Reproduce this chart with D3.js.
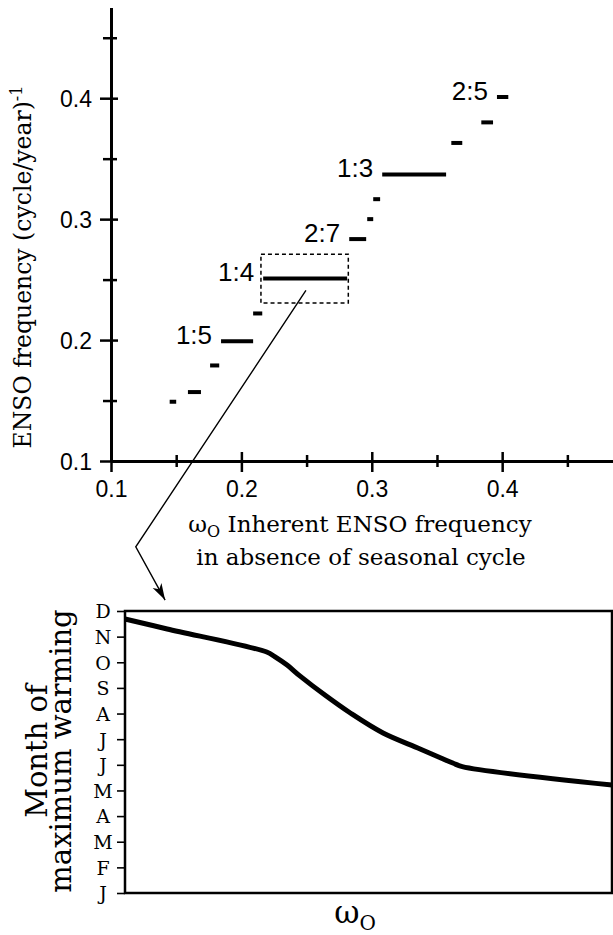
<!DOCTYPE html>
<html>
<head>
<meta charset="utf-8">
<script src="https://cdn.jsdelivr.net/npm/d3@7"></script>
<style>
  body { margin: 0; background: #fff; }
  svg { display: block; }
</style>
</head>
<body>
<div id="chart"></div>
<script>
const width = 613;
const height = 935;

// top panel: locked ENSO frequency vs inherent frequency w0
const stepStart = [0.145, 0.159, 0.176, 0.1844, 0.209, 0.2167, 0.2827, 0.2965, 0.3011, 0.308, 0.361, 0.384, 0.396];
const stepEnd = [0.150, 0.169, 0.183, 0.209, 0.216, 0.2811, 0.2957, 0.3011, 0.3064, 0.357, 0.3694, 0.393, 0.4047];
const stepFreq = [0.149, 0.157, 0.179, 0.199, 0.222, 0.251, 0.2835, 0.300, 0.3165, 0.337, 0.363, 0.380, 0.401];
const stepLabels = ["", "", "", "1:5", "", "1:4", "2:7", "", "", "1:3", "", "", "2:5"];
const majorTicks = [0.1, 0.2, 0.3, 0.4];
const minorTicks = [0.15, 0.25, 0.35, 0.45];

// dashed box around the 1:4 step (w0 from, w0 to, freq low, freq high)
const zoomW = [0.215, 0.282];
const zoomF = [0.2306, 0.271];
// arrow from the box down to the lower panel, in top-panel data units
const arrowPts = [[0.2495, 0.241], [0.119, 0.029], [0.1415, -0.015]];

// bottom panel: month of maximum warming across the 1:4 step (0 = Jan)
const months = ["J", "F", "M", "A", "M", "J", "J", "A", "S", "O", "N", "D"];
const warmW = [0.2150, 0.2208, 0.2345, 0.2356, 0.2373, 0.2391, 0.2425, 0.2460, 0.2505, 0.2556, 0.2601, 0.2614, 0.2820];
const warmMonth = [10.69, 10.30, 9.40, 9.22, 8.89, 8.46, 7.72, 7.02, 6.24, 5.62, 5.07, 4.93, 4.21];

const sans = "'Liberation Sans', Arial, sans-serif";
const serif = "'DejaVu Serif', serif";

var svg = d3.select("#chart").append("svg")
  .attr("width", width)
  .attr("height", height);

//
// top panel
//
var x = d3.scaleLinear().domain([0.1, 0.485]).range([111, 613]);
var y = d3.scaleLinear().domain([0.1, 0.475]).range([461, 7.5]);

var xAxis = svg.append("g")
  .attr("transform", "translate(0," + y(0.1) + ")")
  .call(d3.axisBottom(x).tickValues(majorTicks.concat(minorTicks)).tickSizeOuter(0)
    .tickFormat(d => majorTicks.includes(d) ? d3.format(".1f")(d) : ""));
xAxis.select(".domain").attr("stroke-width", 3);
xAxis.selectAll(".tick line")
  .attr("stroke-width", 2.5)
  .attr("y1", d => majorTicks.includes(d) ? -9 : -6)
  .attr("y2", d => majorTicks.includes(d) ? 11 : 6);
xAxis.selectAll(".tick text")
  .attr("y", 36).attr("dy", null)
  .style("font-family", sans).style("font-size", "23px").attr("fill", "#000");

var yAxis = svg.append("g")
  .attr("transform", "translate(" + x(0.1) + ",0)")
  .call(d3.axisLeft(y).tickValues(majorTicks.concat(minorTicks)).tickSizeOuter(0)
    .tickFormat(d => majorTicks.includes(d) ? d3.format(".1f")(d) : ""));
yAxis.select(".domain").attr("stroke-width", 3);
yAxis.selectAll(".tick line")
  .attr("stroke-width", 2.5)
  .attr("x1", d => majorTicks.includes(d) ? 7 : 6)
  .attr("x2", d => majorTicks.includes(d) ? -11 : -8);
yAxis.selectAll(".tick text")
  .attr("x", -19).attr("dy", "0.36em")
  .style("font-family", sans).style("font-size", "23px").attr("fill", "#000");

var steps = d3.range(stepFreq.length);
svg.selectAll("line.step").data(steps).enter().append("line")
  .attr("class", "step")
  .attr("x1", i => x(stepStart[i]))
  .attr("x2", i => x(stepEnd[i]))
  .attr("y1", i => y(stepFreq[i]))
  .attr("y2", i => y(stepFreq[i]))
  .attr("stroke", "#000")
  .attr("stroke-width", 4);

svg.selectAll("text.lock").data(steps.filter(i => stepLabels[i])).enter().append("text")
  .attr("class", "lock")
  .attr("x", i => x(stepStart[i]) - 9)
  .attr("y", i => y(stepFreq[i]) + 3)
  .attr("text-anchor", "end")
  .style("font-family", sans)
  .style("font-size", "26px")
  .text(i => stepLabels[i]);

svg.append("rect")
  .attr("x", x(zoomW[0]))
  .attr("y", y(zoomF[1]))
  .attr("width", x(zoomW[1]) - x(zoomW[0]))
  .attr("height", y(zoomF[0]) - y(zoomF[1]))
  .attr("fill", "none")
  .attr("stroke", "#000")
  .attr("stroke-width", 1.5)
  .attr("stroke-dasharray", "4,3");

svg.append("defs").append("marker")
  .attr("id", "head")
  .attr("markerUnits", "userSpaceOnUse")
  .attr("markerWidth", 20).attr("markerHeight", 20)
  .attr("refX", 0).attr("refY", 0)
  .attr("viewBox", "-16 -8 18 16")
  .attr("orient", "auto")
  .append("path")
  .attr("d", "M0,0 L-15,-4.5 L-11,0 L-15,4.5 Z")
  .attr("fill", "#000");

svg.append("path")
  .datum(arrowPts)
  .attr("d", d3.line().x(d => x(d[0])).y(d => y(d[1])))
  .attr("fill", "none")
  .attr("stroke", "#000")
  .attr("stroke-width", 1.4)
  .attr("marker-end", "url(#head)");

// axis titles
svg.append("text")
  .attr("transform", "translate(31,267) rotate(-90)")
  .attr("text-anchor", "middle")
  .style("font-family", serif)
  .style("font-size", "23.5px")
  .text("ENSO frequency (cycle/year)")
  .append("tspan")
  .attr("dy", -9)
  .style("font-size", "16px")
  .text("-1");

var xt = svg.append("text")
  .attr("x", 360).attr("y", 532)
  .attr("text-anchor", "middle")
  .style("font-family", serif)
  .style("font-size", "23px");
xt.append("tspan").text("ω");
xt.append("tspan").attr("dy", 5).style("font-size", "16px").text("O");
xt.append("tspan").attr("dy", -5).text(" Inherent ENSO frequency");
svg.append("text")
  .attr("x", 361).attr("y", 565)
  .attr("text-anchor", "middle")
  .style("font-family", serif)
  .style("font-size", "23px")
  .text("in absence of seasonal cycle");

//
// bottom panel
//
var x2 = d3.scaleLinear().domain(zoomW).range([125, 612]);
var y2 = d3.scaleLinear().domain([0, 11]).range([893, 611]);

svg.append("rect")
  .attr("x", x2.range()[0])
  .attr("y", y2.range()[1])
  .attr("width", x2.range()[1] - x2.range()[0])
  .attr("height", y2.range()[0] - y2.range()[1])
  .attr("fill", "none")
  .attr("stroke", "#000")
  .attr("stroke-width", 2.5);

var mAxis = svg.append("g")
  .attr("transform", "translate(" + x2.range()[0] + ",0)")
  .call(d3.axisLeft(y2).tickValues(d3.range(months.length)).tickSize(8).tickSizeOuter(0)
    .tickFormat(i => months[i]));
mAxis.select(".domain").remove();
mAxis.selectAll(".tick line").attr("stroke-width", 1.6);
mAxis.selectAll(".tick text")
  .attr("x", -22).attr("dy", "0.36em")
  .attr("text-anchor", "middle")
  .style("font-family", serif).style("font-size", "19px").attr("fill", "#000");

svg.append("path")
  .datum(d3.range(warmW.length))
  .attr("d", d3.line().x(i => x2(warmW[i])).y(i => y2(warmMonth[i])).curve(d3.curveCatmullRom.alpha(0.5)))
  .attr("fill", "none")
  .attr("stroke", "#000")
  .attr("stroke-width", 5)
  .attr("stroke-linejoin", "round");

var mt = svg.append("text")
  .attr("transform", "translate(0,751) rotate(-90)")
  .attr("text-anchor", "middle")
  .style("font-family", serif)
  .style("font-size", "29px");
mt.append("tspan").attr("x", 0).attr("y", 47).text("Month of");
mt.append("tspan").attr("x", 0).attr("y", 71).text("maximum warming");

var wt = svg.append("text")
  .attr("x", 355).attr("y", 923)
  .attr("text-anchor", "middle")
  .style("font-family", serif)
  .style("font-size", "31px");
wt.append("tspan").text("ω");
wt.append("tspan").attr("dy", 7).style("font-size", "20px").text("O");
</script>
</body>
</html>
